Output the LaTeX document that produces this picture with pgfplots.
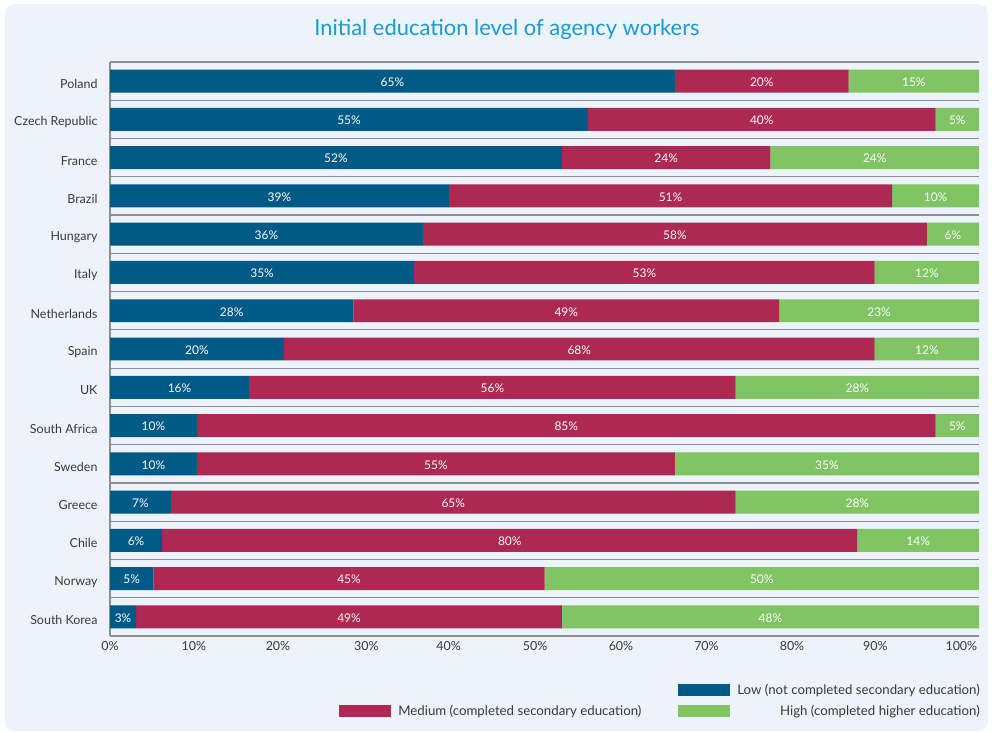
\documentclass[border=0pt]{standalone}
\usepackage{pgfplots}
\pgfplotsset{compat=1.18}
\usepackage{pgfplotstable}
\usepackage{fontspec}
\setmainfont{Lato}
\definecolor{lowc}{HTML}{005A87}
\definecolor{medc}{HTML}{AD2852}
\definecolor{highc}{HTML}{80C463}
\definecolor{titlec}{HTML}{1A9AD6}
\definecolor{panel}{HTML}{ECF3FA}
\definecolor{gridc}{HTML}{8F8F8F}
\definecolor{txt}{HTML}{3A3A3A}
\pgfplotstableread{
y low med high
14 65 20 15
13 55 40 5
12 52 24 24
11 39 51 10
10 36 58 6
9 35 53 12
8 28 49 23
7 20 68 12
6 16 56 28
5 10 85 5
4 10 55 35
3 7 65 28
2 6 80 14
1 5 45 50
0 3 49 48
}\datatable
\begin{document}
\begin{tikzpicture}
\useasboundingbox (0bp,0bp) rectangle (992bp,-733bp);
\fill[white] (0bp,0bp) rectangle (992bp,-733bp);
\fill[panel, rounded corners=10bp] (5bp,-4bp) rectangle (988bp,-731bp);
\node[font=\fontsize{22}{26}\selectfont, text=titlec] at (507bp,-29bp) {Initial education level of agency workers};
\begin{axis}[
  at={(110bp,-636bp)}, anchor=south west, scale only axis,
  width=869bp, height=574bp,
  xbar stacked, bar width=0.6,
  xmin=0, xmax=100, ymin=-0.5, ymax=14.5,
  enlargelimits=false,
  /pgf/number format/assume math mode=true,
  axis y line*=left, axis x line*=bottom,
  y axis line style={gridc, line width=1.2bp},
  x axis line style={gridc, line width=1.2bp},
  xtick={0,9.64,19.33,29.5,38.97,48.93,58.8,68.64,78.48,88.07,97.97},
  xticklabels={0\%,10\%,20\%,30\%,40\%,50\%,60\%,70\%,80\%,90\%,100\%},
  ytick={0,...,14},
  yticklabels={South Korea, Norway, Chile, Greece, Sweden, South Africa, UK, Spain, Netherlands, Italy, Hungary, Brazil, France, Czech Republic, Poland},
  minor ytick={-0.5,0.5,...,14.5},
  yminorgrids,
  minor grid style={gridc, line width=1.2bp},
  major tick length=0pt, minor tick length=0pt,
  tick label style={font=\fontsize{12.5}{15}\selectfont, text=txt},
  yticklabel style={xshift=-9bp, yshift=-3bp},
  xticklabel style={font=\fontsize{12.5}{14}\selectfont, yshift=-2bp},
  legend columns=2,
  legend cell align=right,
  legend style={at={(1,0)}, anchor=north east, yshift=-44bp, xshift=6bp, draw=none, fill=none,
    font=\fontsize{13.3}{15}\selectfont, text=txt,
    /tikz/every even column/.append style={column sep=35bp}, row sep=5bp},
  legend image code/.code={\fill[#1] (0bp,-6bp) rectangle (52bp,6bp); \path (57bp,0bp);},
  point meta=explicit,
  every node near coord/.append style={anchor=center, text=white,
    font=\fontsize{12}{13}\selectfont, yshift=-1bp},
  nodes near coords={\pgfmathprintnumber{\pgfplotspointmeta}\%},
]
\addlegendimage{empty legend}
\addlegendentry{}
\addplot[fill=lowc, draw=none] table[x=low, y=y, meta=low] {\datatable};
\addlegendentry{Low (not completed secondary education)}
\addplot[fill=medc, draw=none] table[x=med, y=y, meta=med] {\datatable};
\addlegendentry{Medium (completed secondary education)}
\addplot[fill=highc, draw=none] table[x=high, y=y, meta=high] {\datatable};
\addlegendentry{High (completed higher education)}
\end{axis}
\end{tikzpicture}
\end{document}
